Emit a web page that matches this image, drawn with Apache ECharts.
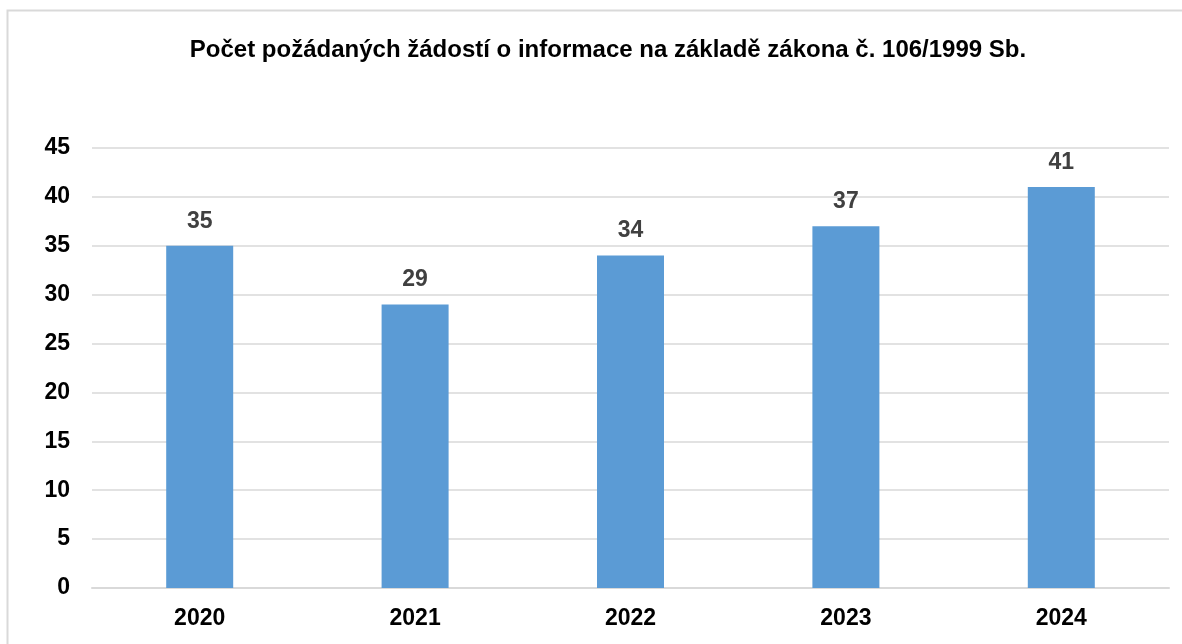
<!DOCTYPE html>
<html>
<head>
<meta charset="utf-8">
<script src="https://cdn.jsdelivr.net/npm/echarts@6/dist/echarts.min.js"></script>
<style>
  html, body { margin: 0; padding: 0; background: #fff; }
  #chart { width: 1182px; height: 644px; }
</style>
</head>
<body>
<div id="chart"></div>
<script>
// roky a počty žádostí
const years = ['2020', '2021', '2022', '2023', '2024']
const requests = [35, 29, 34, 37, 41]
const yTicks = [0, 5, 10, 15, 20, 25, 30, 35, 40, 45]

const font = '"Liberation Sans", Arial, sans-serif'
const chart = echarts.init(document.getElementById('chart'))

chart.setOption({
  animation: false,
  textStyle: { fontFamily: font },
  graphic: [
    {
      type: 'rect',
      shape: { x: 7.5, y: 10.5, width: 1200, height: 700 },
      style: { fill: 'none', stroke: '#d9d9d9', lineWidth: 2 },
      silent: true
    }
  ],
  title: {
    text: 'Počet požádaných žádostí o informace na základě zákona č. 106/1999 Sb.',
    left: 603,
    top: 33,
    textAlign: 'center',
    textStyle: { fontFamily: font, fontSize: 24, fontWeight: 'bold', color: '#000' }
  },
  grid: { left: 92, right: 13, top: 148, bottom: 56, containLabel: false },
  xAxis: {
    type: 'category',
    data: years,
    axisLine: { show: true, lineStyle: { color: '#d9d9d9', width: 2 } },
    axisTick: { show: false },
    axisLabel: { color: '#000', fontSize: 23, fontWeight: 'bold', margin: 19, fontFamily: font }
  },
  yAxis: {
    type: 'value',
    min: yTicks[0],
    max: yTicks[yTicks.length - 1],
    interval: 5,
    axisLine: { show: false },
    axisTick: { show: false },
    splitLine: { lineStyle: { color: '#d9d9d9', width: 1.5 } },
    axisLabel: { color: '#000', fontSize: 23, fontWeight: 'bold', margin: 22, fontFamily: font }
  },
  series: [
    {
      type: 'bar',
      data: requests,
      barWidth: 67,
      itemStyle: { color: '#5b9bd5' },
      label: {
        show: true,
        position: 'top',
        distance: 13,
        color: '#404040',
        fontSize: 23,
        fontWeight: 'bold',
        fontFamily: font
      }
    }
  ]
})
</script>
</body>
</html>
